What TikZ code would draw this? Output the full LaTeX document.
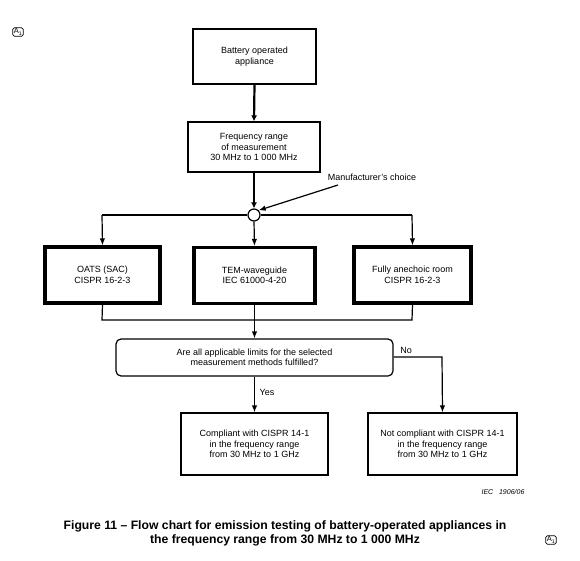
\documentclass[tikz,border=0pt]{standalone}
\usepackage{fontspec}
\setmainfont{Liberation Sans}
\usetikzlibrary{arrows.meta}
\begin{document}
\begin{tikzpicture}[x=1pt,y=-1pt,
  txt/.style={font=\fontsize{9}{10.5}\selectfont, align=center},
  thinbox/.style={draw, line width=1.2pt, txt},
  thickbox/.style={draw, line width=3.2pt, txt},
  conn/.style={line width=1.2pt},
  arr/.style={line width=1.2pt, -{Latex[length=7pt,width=5.5pt]}},
  boldarr/.style={line width=2.2pt, -{Latex[length=6pt,width=6pt]}},
  amark/.style={draw, line width=0.8pt, rounded corners=1.5pt, font=\fontsize{7.5}{7.5}\selectfont, inner sep=1pt}]
\useasboundingbox (0,0) rectangle (580,561);
% boxes
\node[thinbox, minimum width=123pt, minimum height=55pt] (bat) at (254.5,56.5) {Battery operated\\appliance};
\node[thinbox, minimum width=132pt, minimum height=50pt] (freq) at (254,147) {Frequency range\\of measurement\\30 MHz to 1 000 MHz};
\node[draw, circle, line width=1.2pt, minimum size=12pt, inner sep=0pt, fill=white] (c) at (254,215) {};
\node[thickbox, minimum width=115pt, minimum height=56pt] (oats) at (102.5,275) {OATS (SAC)\\CISPR 16-2-3};
\node[thickbox, minimum width=121pt, minimum height=56pt] (tem) at (254.5,275.5) {TEM-waveguide\\IEC 61000-4-20};
\node[thickbox, minimum width=117pt, minimum height=56pt] (fac) at (412.5,275) {Fully anechoic room\\CISPR 16-2-3};
\node[draw, rounded corners=5pt, line width=1.2pt, txt, minimum width=277pt, minimum height=37pt] (q) at (254.5,357.5) {Are all applicable limits for the selected\\measurement methods fulfilled?};
\node[thinbox, minimum width=147pt, minimum height=62pt] (yes) at (254.5,444) {Compliant with CISPR 14-1\\in the frequency range\\from 30 MHz to 1 GHz};
\node[thinbox, minimum width=149pt, minimum height=62pt] (no) at (442.5,444) {Not compliant with CISPR 14-1\\in the frequency range\\from 30 MHz to 1 GHz};
% labels
\node[txt] (mc) at (372,177) {Manufacturer's choice};
\node[txt] (nol) at (406,350) {No};
\node[txt] (yesl) at (267,392) {Yes};
\node[font=\fontsize{7}{8}\selectfont\itshape] (iec) at (503,492) {IEC\ \ \ 1906/06};
\node[font=\fontsize{12.2}{14}\selectfont\bfseries, align=center] (cap) at (285,533) {Figure 11 -- Flow chart for emission testing of battery-operated appliances in\\the frequency range from 30 MHz to 1 000 MHz};
\node[amark] (a1) at (18,32) {A\textsubscript{1}};
\node[amark] (a2) at (551,540) {A\textsubscript{1}};
% connectors
\draw[boldarr] (bat.south) -- (freq.north);
\draw[boldarr] (freq.south) -- (c.north);
\draw[arr] (338,185) coordinate (mcs) -- (c.north east);
\draw[conn] (c.west) -- (102,215) coordinate (lt);
\draw[conn] (c.east) -- (412,215) coordinate (rt);
\draw[arr] (lt) -- (oats.north);
\draw[arr] (rt) -- (fac.north);
\draw[arr] (c.south) -- (tem.north);
\draw[conn] (oats.south) -- (102,320) coordinate (lb) -- (412,320) coordinate (rb) -- (fac.south);
\draw[arr] (tem.south) -- (q.north);
\draw[arr] (q.south) -- (yes.north);
\draw[arr] (q.east |- 0,357) -- (442,357) -- (no.north);
\end{tikzpicture}
\end{document}
